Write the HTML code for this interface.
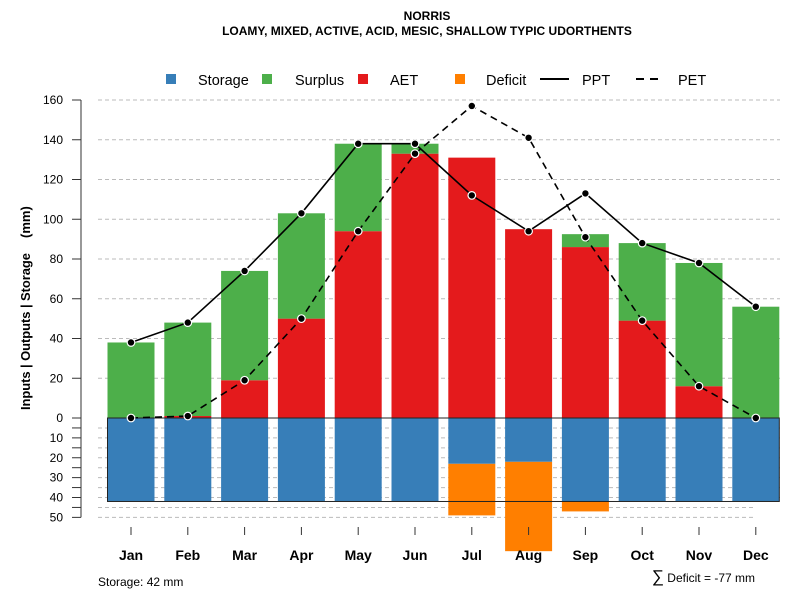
<!DOCTYPE html>
<html><head><meta charset="utf-8"><style>
body{margin:0;background:#fff}
svg text{font-family:"Liberation Sans",sans-serif}
</style></head><body>
<svg id="c" width="800" height="600" xmlns="http://www.w3.org/2000/svg">
<text x="427" y="20" text-anchor="middle" font-size="12" font-weight="bold">NORRIS</text>
<text x="427" y="35" text-anchor="middle" font-size="12" font-weight="bold">LOAMY, MIXED, ACTIVE, ACID, MESIC, SHALLOW TYPIC UDORTHENTS</text>
<g font-size="14.5">
<rect x="166" y="74" width="10" height="10" fill="#377EB8"/>
<text x="198" y="85">Storage</text>
<rect x="262" y="74" width="10" height="10" fill="#4DAF4A"/>
<text x="295" y="85">Surplus</text>
<rect x="358" y="74" width="10" height="10" fill="#E41A1C"/>
<text x="390" y="85">AET</text>
<rect x="455" y="74" width="10" height="10" fill="#FF7F00"/>
<text x="486" y="85">Deficit</text>
<line x1="540" y1="79" x2="569" y2="79" stroke="#000" stroke-width="2"/>
<text x="582" y="85">PPT</text>
<line x1="636" y1="79" x2="662" y2="79" stroke="#000" stroke-width="2" stroke-dasharray="8,6"/>
<text x="678" y="85">PET</text>
</g>
<g font-size="13" font-weight="bold">
<text transform="translate(30,410) rotate(-90)" textLength="157">Inputs | Outputs | Storage</text>
<text transform="translate(30,238) rotate(-90)">(mm)</text>
</g>
<text x="98" y="586" font-size="12">Storage: 42 mm</text>
<text x="755" y="582" text-anchor="end" font-size="12"><tspan font-size="17">∑</tspan> Deficit = -77 mm</text>
<g id="g"></g>
</svg>
<script>
const months=["Jan","Feb","Mar","Apr","May","Jun","Jul","Aug","Sep","Oct","Nov","Dec"];
const ppt=[38,48,74,103,138,138,112,94,113,88,78,56];
const pet=[0,1,19,50,94,133,157,141,91,49,16,0];
const aet=[0,1,19,50,94,133,131,95,86,49,16,0];
const surplus=[38,47,55,53,44,5,0,0,6.5,39,62,56];
const storage=[42,42,42,42,42,42,23,22,42,42,42,42];
const deficit=[0,0,0,0,0,0,26,45,5,0,0,0];
const upperTicks=[0,20,40,60,80,100,120,140,160];
const lowerTicks=[10,20,30,40,50];
const storageCap=42;

const NS="http://www.w3.org/2000/svg";
const g=document.getElementById('g');
const y0=418,k=1.9875;
const yU=v=>y0-v*k, yL=v=>y0+v*k;
const xC=i=>131+i*56.8, bw=47;
const AX=81;
function mk(t,a){const e=document.createElementNS(NS,t);for(const n in a)e.setAttribute(n,a[n]);g.appendChild(e);return e;}

upperTicks.forEach(v=>{if(v>0){const l=mk('line',{x1:98,x2:780,y1:yU(v),y2:yU(v),stroke:'#bbb','stroke-dasharray':'4,3'});

}});
for(let v=5;v<=50;v+=5){const l=mk('line',{x1:98,x2:v>40?756:780,y1:yL(v),y2:yL(v),stroke:'#bbb','stroke-dasharray':'4,3'});

}

months.forEach((m,i)=>{
 const x=xC(i)-bw/2;
 let r=mk('rect',{x:x,y:yL(storage[i]),width:bw,height:deficit[i]*k,fill:'#FF7F00'});
 
 
 r=mk('rect',{x:x,y:y0,width:bw,height:storage[i]*k,fill:'#377EB8'});
 
 
 r=mk('rect',{x:x,y:yU(aet[i]),width:bw,height:aet[i]*k,fill:'#E41A1C'});
 
 
 r=mk('rect',{x:x,y:yU(aet[i]+surplus[i]),width:bw,height:surplus[i]*k,fill:'#4DAF4A'});
 
 
 let t=mk('line',{x1:xC(i),x2:xC(i),y1:527,y2:535,stroke:'#333'});
 
 
 let tx=mk('text',{x:xC(i),y:560,'text-anchor':'middle','font-size':14,'font-weight':'bold'});
 tx.textContent=m;
 
 
});
let box=mk('rect',{x:xC(0)-bw/2,y:y0,width:xC(11)+bw/2-(xC(0)-bw/2),height:storageCap*k,fill:'none',stroke:'#222','stroke-width':1});



let ax=mk('line',{x1:AX,x2:AX,y1:yU(160),y2:yL(50),stroke:'#555','stroke-width':1.2});


upperTicks.forEach(v=>{let t=mk('line',{x1:AX-9,x2:AX,y1:yU(v),y2:yU(v),stroke:'#333'});


let tx=mk('text',{x:63,y:yU(v)+4,'text-anchor':'end','font-size':12});tx.textContent=v;

});
for(let v=5;v<=50;v+=5){let t=mk('line',{x1:AX-9,x2:AX,y1:yL(v),y2:yL(v),stroke:'#333'});

}
lowerTicks.forEach(v=>{let tx=mk('text',{x:63,y:yL(v)+4,'text-anchor':'end','font-size':12});tx.textContent=v;

});

function series(arr,dash,name){
 const p=mk('polyline',{points:arr.map((v,i)=>xC(i)+','+yU(v)).join(' '),fill:'none',stroke:'#000','stroke-width':1.6,'stroke-dasharray':dash});
 
 
 arr.forEach((v,i)=>{const c=mk('circle',{cx:xC(i),cy:yU(v),r:3.8,fill:'#000',stroke:'#fff','stroke-width':1.2});
 
 });
}
series(ppt,'none','ppt');
series(pet,'7,5','pet');
</script>
</body></html>
